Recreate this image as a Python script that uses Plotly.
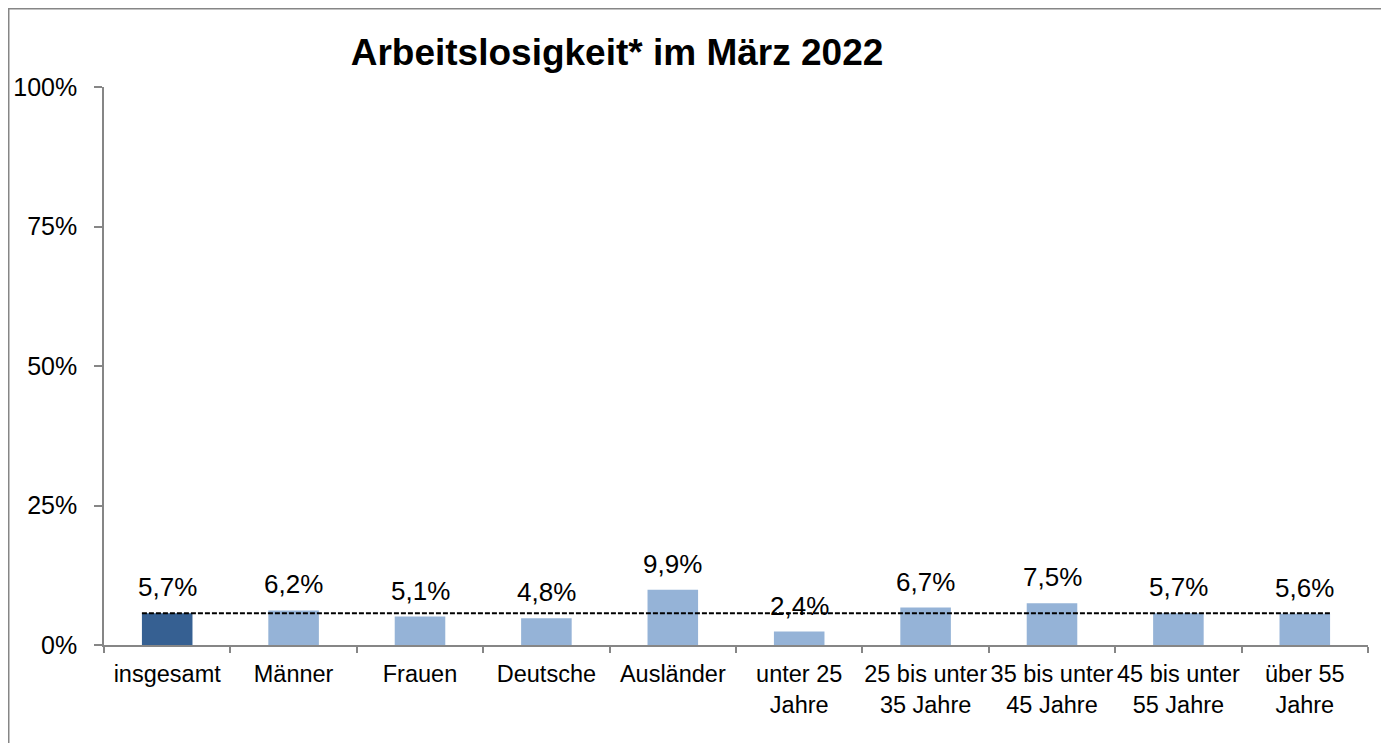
import plotly.graph_objects as go

categories = ["insgesamt", "Männer", "Frauen", "Deutsche", "Ausländer",
              "unter 25<br>Jahre", "25 bis unter<br>35 Jahre", "35 bis unter<br>45 Jahre",
              "45 bis unter<br>55 Jahre", "über 55<br>Jahre"]
values = [5.7, 6.2, 5.1, 4.8, 9.9, 2.4, 6.7, 7.5, 5.7, 5.6]
reference_value = 5.7
y_ticks = [0, 25, 50, 75, 100]
y_tick_labels = ["0%", "25%", "50%", "75%", "100%"]
title_text = "<b>Arbeitslosigkeit* im März 2022</b>"

FONT = "Arial, 'Liberation Sans', sans-serif"
DARK = "#366092"
LIGHT = "#95B3D7"
GRAY = "#868686"

colors = [DARK] + [LIGHT] * (len(values) - 1)
labels = [f"{v:.1f}%".replace(".", ",") for v in values]

fig = go.Figure()
fig.add_trace(go.Bar(
    x=categories, y=values,
    marker=dict(color=colors, line=dict(width=0)),
    width=0.4,
    hoverinfo="skip",
))

for c, v, t in zip(categories, values, labels):
    fig.add_annotation(x=c, y=v, text=t, showarrow=False, yanchor="bottom",
                       yshift=9, font=dict(family=FONT, size=26, color="#000000"))

# reference dashed line across bars
fig.add_shape(type="line", xref="x", yref="y", x0=-0.2, x1=len(values) - 1 + 0.2,
              y0=reference_value, y1=reference_value,
              line=dict(color="#000000", width=2, dash="5px,2px"))

# outer chart border
fig.add_shape(type="rect", xref="paper", yref="paper",
              x0=-0.07536, x1=1.01187, y0=-0.4, y1=1.14023,
              line=dict(color=GRAY, width=1.5), fillcolor="rgba(0,0,0,0)", layer="below")

fig.update_layout(
    width=1376, height=735,
    margin=dict(l=96, r=16, t=79, b=98, autoexpand=False),
    paper_bgcolor="white", plot_bgcolor="white",
    showlegend=False,
    title=dict(text=title_text, x=0.4426, xref="container", xanchor="center",
               y=0.9401, yref="container", yanchor="middle",
               font=dict(family=FONT, size=37, color="#000000")),
    font=dict(family=FONT, color="#000000"),
)
fig.update_xaxes(
    automargin=False,
    showline=True, linecolor=GRAY, linewidth=1.5,
    ticks="outside", tickson="boundaries", ticklen=6, tickcolor=GRAY, tickwidth=1.5,
    ticklabelstandoff=7,
    tickangle=0, tickfont=dict(family=FONT, size=23.5, color="#000000"),
    showgrid=False, zeroline=False, fixedrange=True,
)
fig.update_yaxes(
    automargin=False,
    range=[0, 100], tickvals=y_ticks, ticktext=y_tick_labels,
    showline=True, linecolor=GRAY, linewidth=1.5,
    ticks="outside", ticklen=8, tickcolor=GRAY, tickwidth=1.5,
    ticklabelstandoff=12,
    tickfont=dict(family=FONT, size=25, color="#000000"),
    showgrid=False, zeroline=False, fixedrange=True,
)

fig.write_html("out.html", config={"displayModeBar": False})
